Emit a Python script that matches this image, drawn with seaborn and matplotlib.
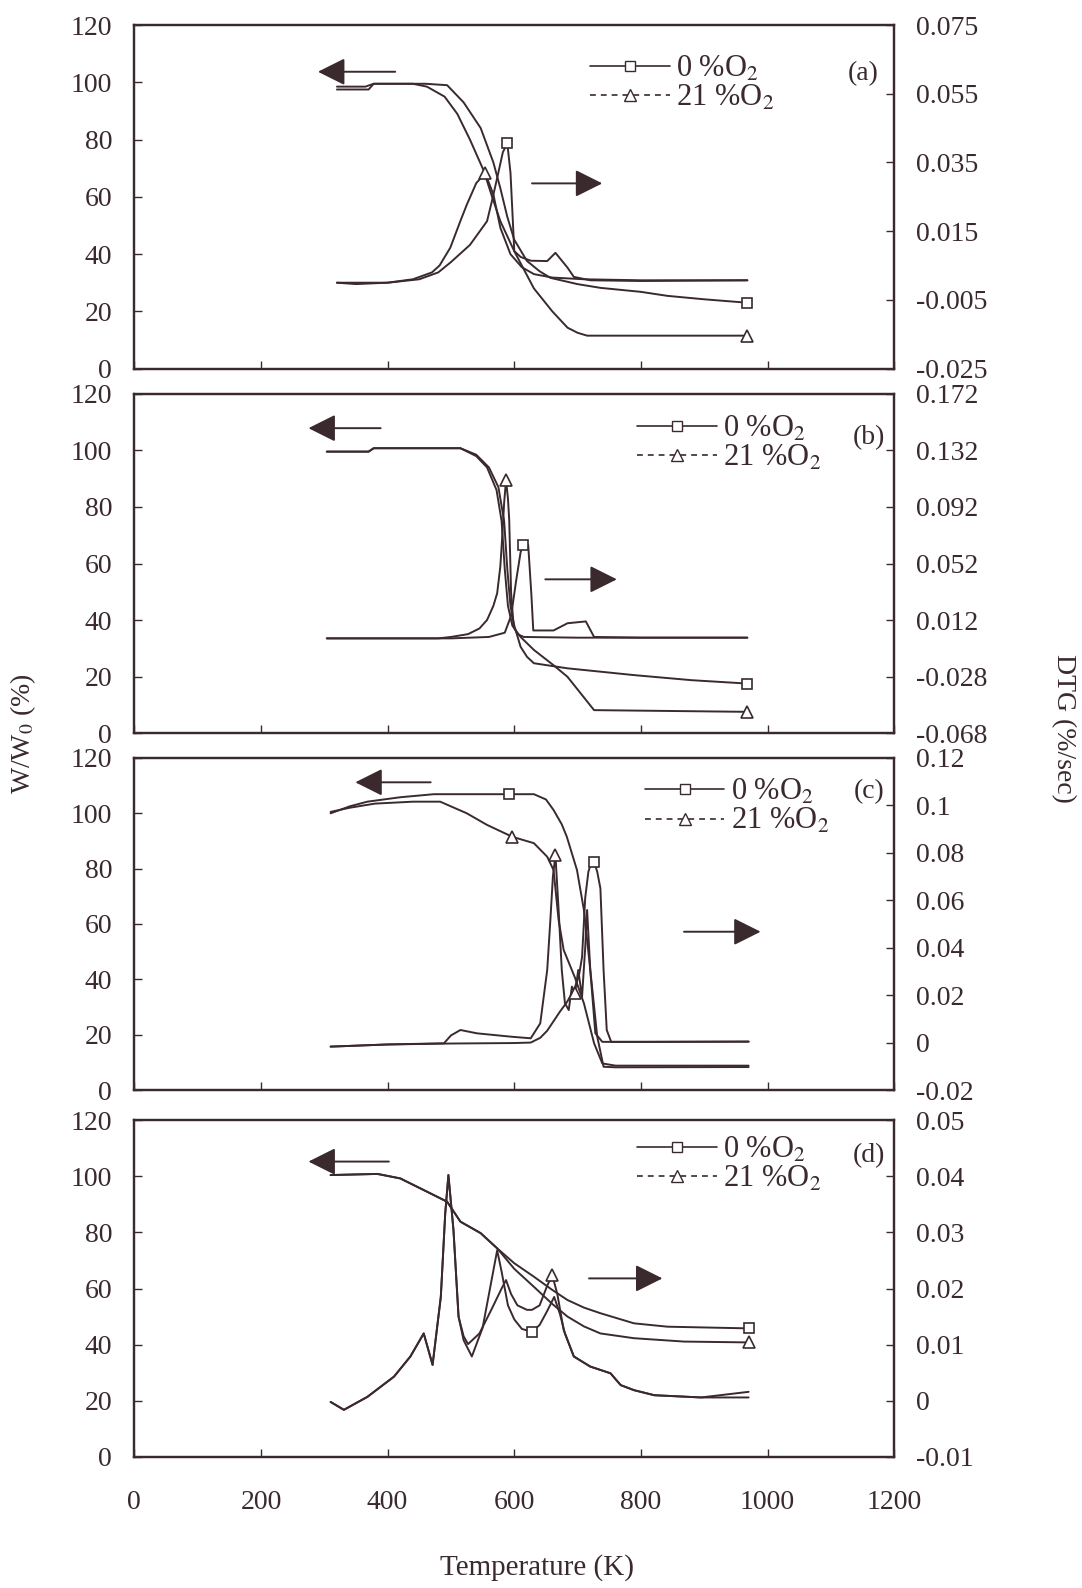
import numpy as np
import matplotlib
matplotlib.use('Agg')
import matplotlib.pyplot as plt
from matplotlib.lines import Line2D
import seaborn as sns

sns.set_style('ticks')
plt.rcParams['font.family'] = ['Liberation Serif', 'DejaVu Serif']
plt.rcParams['mathtext.fontset'] = 'stix'

INK = '#3a2a2e'

# ---- panel (a) ----
t_tg0_a = [320, 365, 378, 460, 494, 520, 547, 567, 578, 589, 600, 620, 640, 657, 700, 736, 800, 842, 900, 968]
w_tg0_a = [98.5, 98.5, 99.5, 99.5, 99, 93, 84, 72, 63, 53, 45, 37.6, 34, 31.7, 29.5, 28.2, 26.8, 25.4, 24.2, 23]
t_tg21_a = [320, 370, 378, 440, 462, 490, 510, 530, 552, 565, 578, 600, 631, 660, 684, 700, 715, 968]
w_tg21_a = [97.5, 97.5, 99.5, 99.5, 98.5, 95, 89, 80, 69, 60, 51.5, 41, 28, 20, 14.3, 12.5, 11.5, 11.5]
t_dtg0_a = [320, 400, 450, 480, 500, 530, 557, 565, 573, 582, 589, 594, 597, 600, 610, 626, 652, 665, 684, 694, 720, 800, 968]
d_dtg0_a = [0.0, 0.0, 0.001, 0.003, 0.006, 0.011, 0.0179, 0.024, 0.0305, 0.038, 0.0406, 0.032, 0.0208, 0.0092,
            0.0075, 0.0064, 0.0063, 0.0087, 0.0044, 0.0017, 0.0007, 0.0005, 0.0007]
t_dtg21_a = [320, 350, 400, 440, 470, 482, 499, 515, 525, 540, 554, 567, 578, 594, 612, 631, 660, 710, 800, 968]
d_dtg21_a = [0.0, -0.0004, 0.0, 0.001, 0.003, 0.005, 0.0102, 0.018, 0.0227, 0.029, 0.0319, 0.0257, 0.016, 0.0083,
             0.0045, 0.0025, 0.0015, 0.001, 0.0007, 0.0007]

# ---- panel (b) ----
t_tg0_b = [304, 370, 378, 515, 540, 560, 575, 584, 589, 594, 600, 610, 620, 631, 684, 789, 880, 968]
w_tg0_b = [99.6, 99.6, 100.8, 100.8, 98.5, 94, 87, 75, 58, 45, 38, 30.5, 27, 24.7, 22.9, 20.5, 18.7, 17.5]
t_tg21_b = [304, 370, 378, 515, 540, 557, 572, 580, 585, 590, 597, 610, 631, 662, 684, 705, 726, 968]
w_tg21_b = [99.6, 99.6, 100.8, 100.8, 98, 94, 86, 75, 58, 45, 38, 34, 29.4, 24, 19.9, 14, 8.1, 7.5]
t_dtg0_b = [304, 500, 560, 585, 595, 603, 610, 614, 622, 627, 630, 662, 684, 713, 726, 800, 968]
d_dtg0_b = [-0.001, -0.001, 0.0, 0.003, 0.015, 0.04, 0.06, 0.0651, 0.0651, 0.03, 0.0046, 0.0046, 0.0097, 0.011,
            0.0, -0.0005, -0.0005]
t_dtg21_b = [304, 400, 480, 500, 527, 545, 557, 567, 573, 578, 581, 584, 587, 590, 592, 595, 599, 605, 615, 700, 800, 968]
d_dtg21_b = [-0.001, -0.001, -0.001, 0.0, 0.002, 0.006, 0.012, 0.022, 0.031, 0.05, 0.071, 0.095, 0.111, 0.098,
             0.083, 0.031, 0.0073, 0.002, 0.0, -0.0005, -0.0005, -0.0005]

# ---- panel (c) ----
t_tg0_c = [310, 340, 368, 420, 473, 592, 631, 650, 662, 675, 683, 699, 710, 720, 731, 741, 760, 970]
w_tg0_c = [100, 102.5, 104.2, 105.8, 106.9, 106.9, 106.9, 105, 101.2, 96, 91.5, 79.5, 65, 43.4, 19.3, 8.4, 8.2, 8.3]
t_tg21_c = [310, 340, 380, 440, 483, 525, 557, 597, 631, 652, 662, 670, 678, 696, 710, 726, 739, 760, 970]
w_tg21_c = [100.5, 102, 103.5, 104.2, 104.2, 100, 95.8, 91.5, 89.2, 84.3, 79.5, 61.4, 50.6, 40.5, 31.3, 16.9, 9.6, 8.8, 8.8]
t_dtg0_c = [310, 331, 400, 500, 600, 626, 641, 652, 662, 672, 683, 694, 702, 707, 712, 717, 722, 726, 731, 736,
            741, 746, 753, 800, 970]
d_dtg0_c = [-0.0017, -0.0015, -0.0008, -0.0004, -0.0002, 0.0, 0.002, 0.005, 0.009, 0.013, 0.017, 0.022, 0.028,
            0.036, 0.061, 0.072, 0.0763, 0.0763, 0.072, 0.065, 0.0306, 0.0053, 0.0003, 0.0003, 0.0004]
t_dtg21_c = [310, 331, 400, 489, 500, 515, 541, 594, 626, 641, 652, 657, 661, 665, 670, 675, 680, 686, 691, 696,
             701, 707, 712, 715, 720, 728, 739, 800, 970]
d_dtg21_c = [-0.0017, -0.0015, -0.0008, -0.0003, 0.003, 0.0053, 0.0039, 0.0025, 0.0018, 0.0081, 0.0306, 0.0517,
             0.07, 0.079, 0.0559, 0.0306, 0.0166, 0.0137, 0.0236, 0.021, 0.0306, 0.0193, 0.04, 0.0559, 0.0306,
             0.0039, 0.0003, 0.0003, 0.0004]

# ---- panel (d) ----
t_tg0_d = [310, 384, 420, 462, 494, 515, 547, 573, 600, 631, 660, 684, 710, 736, 789, 842, 970]
w_tg0_d = [100.4, 100.8, 99.2, 94.5, 90.9, 83.8, 79.7, 74.3, 69, 64.2, 59.5, 55.9, 53.2, 51.2, 47.6, 46.4, 45.8]
t_tg21_d = [310, 384, 420, 462, 494, 515, 547, 573, 600, 631, 660, 684, 710, 736, 789, 868, 970]
w_tg21_d = [100.4, 100.8, 99.2, 94.5, 90.9, 83.8, 79.7, 74.3, 67, 60.6, 54.5, 50, 46.5, 44, 42.3, 41.1, 40.8]
t_dtg0_d = [310, 331, 368, 410, 436, 457, 471, 484, 491, 496, 504, 512, 520, 533, 550, 565, 573, 580, 590, 600,
            612, 628, 640, 652, 663, 672, 680, 694, 720, 752, 768, 789, 821, 895, 970]
d_dtg0_d = [-0.0002, -0.0016, 0.0007, 0.0043, 0.0079, 0.012, 0.0064, 0.0185, 0.0334, 0.0402, 0.0304, 0.015,
            0.0108, 0.0079, 0.013, 0.022, 0.0268, 0.023, 0.017, 0.0145, 0.0128, 0.0123, 0.0135, 0.016, 0.0185,
            0.0155, 0.012, 0.0079, 0.0061, 0.0049, 0.0028, 0.0019, 0.001, 0.0006, 0.0016]
t_dtg21_d = [310, 331, 368, 410, 436, 457, 471, 484, 491, 496, 504, 512, 520, 527, 545, 565, 580, 587, 595, 605,
             620, 628, 640, 652, 660, 668, 678, 694, 720, 752, 768, 789, 821, 895, 970]
d_dtg21_d = [-0.0002, -0.0016, 0.0007, 0.0043, 0.0079, 0.012, 0.0064, 0.0185, 0.0334, 0.0402, 0.0304, 0.015,
             0.0115, 0.0101, 0.012, 0.0165, 0.020, 0.0215, 0.019, 0.017, 0.0162, 0.0162, 0.017, 0.0205, 0.0224,
             0.019, 0.0126, 0.0079, 0.0061, 0.0049, 0.0028, 0.0019, 0.001, 0.0006, 0.0006]

# right axis ticks
dtg_ticks_a = [-0.025, -0.005, 0.015, 0.035, 0.055, 0.075]
dtg_labels_a = ['-0.025', '-0.005', '0.015', '0.035', '0.055', '0.075']
dtg_ticks_b = [-0.068, -0.028, 0.012, 0.052, 0.092, 0.132, 0.172]
dtg_labels_b = ['-0.068', '-0.028', '0.012', '0.052', '0.092', '0.132', '0.172']
dtg_ticks_c = [-0.02, 0, 0.02, 0.04, 0.06, 0.08, 0.1, 0.12]
dtg_labels_c = ['-0.02', '0', '0.02', '0.04', '0.06', '0.08', '0.1', '0.12']
dtg_ticks_d = [-0.01, 0, 0.01, 0.02, 0.03, 0.04, 0.05]
dtg_labels_d = ['-0.01', '0', '0.01', '0.02', '0.03', '0.04', '0.05']

temp_ticks = [0, 200, 400, 600, 800, 1000, 1200]
wt_ticks = [0, 20, 40, 60, 80, 100, 120]

panels = [
    dict(tag='(a)', rect=[0.1241, 0.7679, 0.7024, 0.2163],
         tg0=(t_tg0_a, w_tg0_a, [968]), tg21=(t_tg21_a, w_tg21_a, [968]),
         dtg0=(t_dtg0_a, d_dtg0_a, [589]), dtg21=(t_dtg21_a, d_dtg21_a, [554]),
         ticks=dtg_ticks_a, labels=dtg_labels_a,
         larrow=((290, 103.7), (412, 103.7)), rarrow=((739, 64.7), (628, 64.7)),
         leg=(0.6, 0.915), lab=(0.959, 0.86)),
    dict(tag='(b)', rect=[0.1241, 0.5384, 0.7024, 0.2135],
         tg0=(t_tg0_b, w_tg0_b, [968]), tg21=(t_tg21_b, w_tg21_b, [968]),
         dtg0=(t_dtg0_b, d_dtg0_b, [614]), dtg21=(t_dtg21_b, d_dtg21_b, [587]),
         ticks=dtg_ticks_b, labels=dtg_labels_b,
         larrow=((275, 107.9), (389, 107.9)), rarrow=((762, 54.4), (649, 54.4)),
         leg=(0.662, 0.94), lab=(0.967, 0.871)),
    dict(tag='(c)', rect=[0.1241, 0.3136, 0.7024, 0.2091],
         tg0=(t_tg0_c, w_tg0_c, [592]), tg21=(t_tg21_c, w_tg21_c, [597]),
         dtg0=(t_dtg0_c, d_dtg0_c, [726]), dtg21=(t_dtg21_c, d_dtg21_c, [665, 696]),
         ticks=dtg_ticks_c, labels=dtg_labels_c,
         larrow=((349, 111.2), (468, 111.2)), rarrow=((989, 57.2), (868, 57.2)),
         leg=(0.672, 0.94), lab=(0.967, 0.898)),
    dict(tag='(d)', rect=[0.1241, 0.0825, 0.7024, 0.2122],
         tg0=(t_tg0_d, w_tg0_d, [970]), tg21=(t_tg21_d, w_tg21_d, [970]),
         dtg0=(t_dtg0_d, d_dtg0_d, [628]), dtg21=(t_dtg21_d, d_dtg21_d, [660]),
         ticks=dtg_ticks_d, labels=dtg_labels_d,
         larrow=((275, 105.2), (402, 105.2)), rarrow=((834, 63.6), (718, 63.6)),
         leg=(0.662, 0.955), lab=(0.967, 0.893)),
]


def draw(ax, curve, marker):
    t, v, marks = curve
    idx = [t.index(m) for m in marks]
    sns.lineplot(x=t, y=v, ax=ax, color=INK, lw=1.4, sort=False, estimator=None,
                 marker=marker, markevery=idx, markersize=7 if marker == 's' else 8,
                 markerfacecolor='white', markeredgecolor=INK, markeredgewidth=1.2)
    ax.set_xlabel('')
    ax.set_ylabel('')


fig = plt.figure(figsize=(10.82, 15.88), dpi=100)

for i, p in enumerate(panels):
    ax = fig.add_axes(p['rect'])
    ax2 = ax.twinx()
    draw(ax, p['tg0'], 's')
    draw(ax, p['tg21'], '^')
    draw(ax2, p['dtg0'], 's')
    draw(ax2, p['dtg21'], '^')

    ax.set_xlim(0, 1200)
    ax.set_ylim(0, 120)
    ax.set_xticks(temp_ticks)
    ax.set_yticks(wt_ticks)
    ax2.set_ylim(p['ticks'][0], p['ticks'][-1])
    ax2.set_yticks(p['ticks'])
    ax2.set_yticklabels(p['labels'])

    ax.tick_params(axis='y', direction='in', length=6, width=1, pad=16, labelsize=20, colors=INK)
    ax.tick_params(axis='x', direction='in', length=6, width=1, pad=24, labelsize=20, colors=INK,
                   labelbottom=(i == 3))
    ax2.tick_params(axis='y', direction='in', length=6, width=1, pad=16, labelsize=20, colors=INK)
    for a in (ax, ax2):
        for s in a.spines.values():
            s.set_color(INK)
            s.set_linewidth(1.6)

    for (head, tail) in (p['larrow'], p['rarrow']):
        ax.annotate('', xy=head, xytext=tail,
                    arrowprops=dict(arrowstyle='-|>,head_length=1.2,head_width=0.6', lw=1.4,
                                    color=INK, mutation_scale=14, shrinkA=0, shrinkB=0))

    handles = [
        Line2D([], [], color=INK, lw=1.2, ls='-', marker='s', ms=7, mfc='white', mec=INK),
        Line2D([], [], color=INK, lw=1.2, ls=(0, (3.5, 3)), marker='^', ms=8, mfc='white', mec=INK),
    ]
    ax2.legend(handles, [r'0 %O$_2$', r'21 %O$_2$'], loc='upper left', bbox_to_anchor=p['leg'],
               frameon=False, fontsize=22, handlelength=2.6, handletextpad=0.2, labelspacing=0.0,
               borderaxespad=0, borderpad=0, labelcolor=INK)
    ax.text(p['lab'][0], p['lab'][1], p['tag'], transform=ax.transAxes, ha='center', va='center',
            fontsize=20, color=INK)

fig.text(0.021, 0.538, r'W/W$_0$ (%)', rotation=90, ha='center', va='center', fontsize=20, color=INK)
fig.text(0.983, 0.541, 'DTG (%/sec)', rotation=-90, ha='center', va='center', fontsize=20, color=INK)
fig.text(0.496, 0.0126, 'Temperature (K)', ha='center', va='center', fontsize=21, color=INK)

fig.savefig('out.png', dpi=100, facecolor='white')
